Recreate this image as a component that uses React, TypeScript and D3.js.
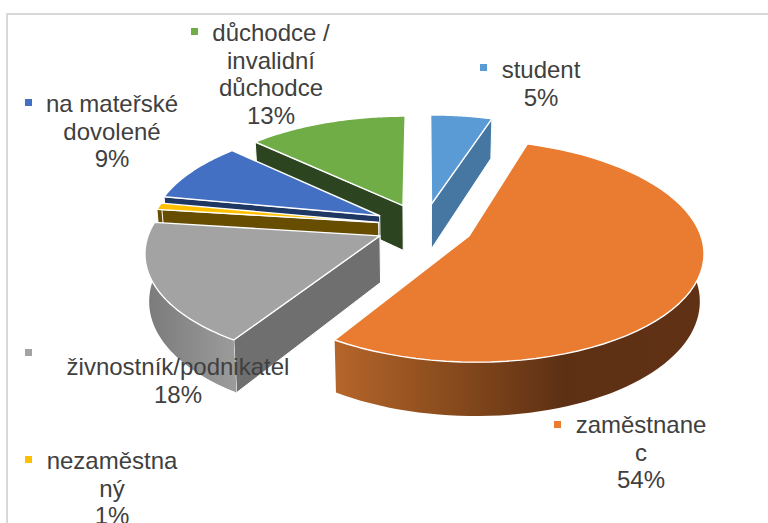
import React from "react";
import * as d3 from "d3";

const categories = ["student", "zaměstnanec", "živnostník/podnikatel", "nezaměstnaný", "na mateřské dovolené", "důchodce / invalidní důchodce"];
const percents = [5, 54, 18, 1, 9, 13];
const labelLines = [
  ["student", "5%"],
  ["zaměstnane", "c", "54%"],
  ["živnostník/podnikatel", "18%"],
  ["nezaměstna", "ný", "1%"],
  ["na mateřské", "dovolené", "9%"],
  ["důchodce /", "invalidní", "důchodce", "13%"],
];
const topColors = ["#5b9bd5", "#ea7c31", "#a3a3a3", "#ffc000", "#4370c2", "#70ad47"];
const wallColors = ["#4677a3", "#5f3013", "#6f6f6f", "#664d00", "#1f3763", "#2c441f"];
const drawOrder = [5, 4, 3, 2, 0, 1];

// label layout: text centre x, first baseline y, marker x, marker y
const labelLayout = [
  { cx: 541, y: 78, mx: 480, my: 64 },
  { cx: 641, y: 433, mx: 554, my: 421 },
  { cx: 178, y: 375, mx: 25, my: 349 },
  { cx: 112, y: 469, mx: 25, my: 456 },
  { cx: 112, y: 112, mx: 25, my: 99 },
  { cx: 271, y: 41, mx: 191, my: 28 },
];
// small horizontal screen correction per slice, in px
const sliceNudge = [0, 0, 1, 3, -1, -2];

const W = 768, H = 523;
const CX = 424, CY = 226, A = 229, B = 106.5, K = 0.134, EXPLODE = 0.215, DEPTH = 46, SHRINK = 0.985;

type P = [number, number];
const persp = (y: number) => 1 / (1 - K * y);
const top = (x: number, y: number, n = 0): P => {
  const s = persp(y);
  return [CX + n + A * x * s, CY + B * y * s];
};
const bottom = (x: number, y: number, n = 0): P => {
  const s = persp(y);
  return [CX + n + A * x * s * SHRINK, CY + B * y * s + DEPTH * s];
};

const line = d3.line<P>().x((d) => d[0]).y((d) => d[1]);
const pie = d3.pie<number>().sort(null).startAngle(0).endAngle(2 * Math.PI);
const arcs = pie(percents);

function sliceGeom(i: number) {
  const { startAngle: a0, endAngle: a1 } = arcs[i];
  const n = sliceNudge[i];
  const mid = (a0 + a1) / 2;
  const ox = Math.sin(mid) * EXPLODE;
  const oy = -Math.cos(mid) * EXPLODE;
  const on = (a: number, r: number): [number, number] => [ox + Math.sin(a) * r, oy - Math.cos(a) * r];
  const samples = (s: number, e: number) => d3.range(0, 61).map((k) => s + ((e - s) * k) / 60);
  const rim = samples(a0, a1).map((a) => on(a, 1));
  const topPath = line([top(ox, oy, n), ...rim.map((p) => top(p[0], p[1], n))]) + "Z";

  const walls: { d: string; color: string }[] = [];
  // radial walls: visible if their outward normal points to the viewer
  const wall = (a: number, normalY: number) => {
    if (normalY <= 0.01) return;
    const e = on(a, 1);
    walls.push({
      d: line([top(ox, oy, n), top(e[0], e[1], n), bottom(e[0], e[1], n), bottom(ox, oy, n)]) + "Z",
      color: wallColors[i],
    });
  };
  wall(a0, -Math.cos(a0 - Math.PI / 2));
  wall(a1, -Math.cos(a1 + Math.PI / 2));
  // rim wall: the arc that faces the viewer, slightly widened for the silhouette
  const f0 = Math.max(a0, Math.PI * 0.44), f1 = Math.min(a1, Math.PI * 1.56);
  let rimWall: string | null = null;
  if (f1 > f0) {
    const pts = samples(f0, f1).map((a) => on(a, 1));
    rimWall = line([...pts.map((p) => top(p[0], p[1], n)), ...pts.slice().reverse().map((p) => bottom(p[0], p[1], n))]) + "Z";
  }
  return { topPath, walls, rimWall };
}

const fontFamily = "'Liberation Sans', Arial, sans-serif";

export default function App() {
  return (
    <svg
      width={W}
      height={H}
      viewBox={`0 0 ${W} ${H}`}
      style={{ position: "absolute", left: 0, top: 0, background: "#fff" }}
      aria-label={categories.join(", ")}
    >
      <defs>
        <linearGradient id="rim1" gradientUnits="userSpaceOnUse" x1={336} x2={703} y1={0} y2={0}>
          <stop offset="0" stopColor="#b5652a" />
          <stop offset="0.3" stopColor="#8a4c1d" />
          <stop offset="0.62" stopColor="#5d3014" />
          <stop offset="1" stopColor="#613114" />
        </linearGradient>
        <linearGradient id="rim2" gradientUnits="userSpaceOnUse" x1={145} x2={238} y1={0} y2={0}>
          <stop offset="0" stopColor="#7a7a7a" />
          <stop offset="1" stopColor="#9c9c9c" />
        </linearGradient>
      </defs>
      <rect x={7} y={14} width={W + 10} height={H + 10} fill="#fff" stroke="#d9d9d9" strokeWidth={2} />
      {drawOrder.map((i) => {
        const g = sliceGeom(i);
        return (
          <g key={categories[i]} stroke="#fff" strokeWidth={1} strokeLinejoin="round">
            {g.walls.map((w, k) => (
              <path key={k} d={w.d} fill={w.color} />
            ))}
            {g.rimWall && <path d={g.rimWall} fill={i === 1 ? "url(#rim1)" : i === 2 ? "url(#rim2)" : wallColors[i]} stroke={i === 1 || i === 2 ? "none" : "#fff"} />}
            <path d={g.topPath} fill={topColors[i]} strokeWidth={1.4} />
          </g>
        );
      })}
      {labelLines.map((lines, i) => {
        const l = labelLayout[i];
        return (
          <g key={i}>
            <rect x={l.mx} y={l.my} width={7} height={7} fill={topColors[i]} />
            <text fontFamily={fontFamily} fontSize={24} fill="#404040" textAnchor="middle">
              {lines.map((t, k) => (
                <tspan key={k} x={l.cx} y={l.y + k * 27.7}>
                  {t}
                </tspan>
              ))}
            </text>
          </g>
        );
      })}
    </svg>
  );
}
